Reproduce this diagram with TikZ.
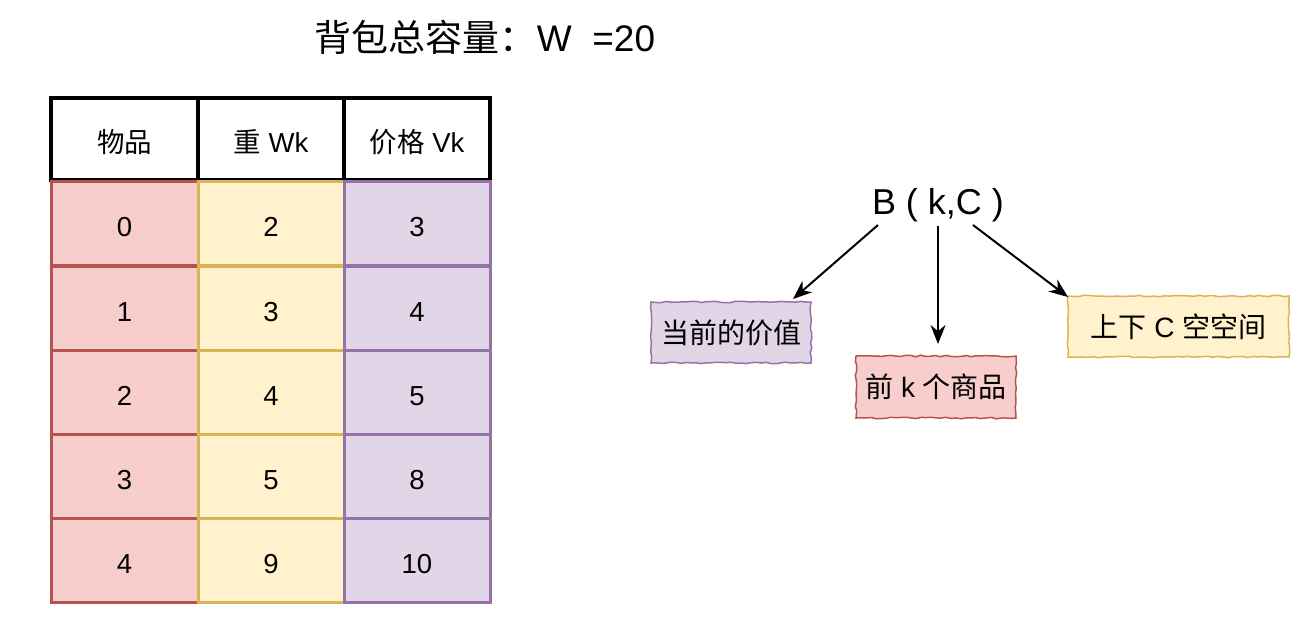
\documentclass[tikz,border=0pt]{standalone}
\usepackage{fontspec}
\setmainfont{Liberation Sans}
\newfontfamily\cjk{Noto Sans CJK SC}
\usetikzlibrary{arrows.meta,decorations.pathmorphing}
\definecolor{redF}{HTML}{F8CECC}\definecolor{redS}{HTML}{B85450}
\definecolor{yelF}{HTML}{FFF2CC}\definecolor{yelS}{HTML}{D6B656}
\definecolor{purF}{HTML}{E1D5E7}\definecolor{purS}{HTML}{9673A6}
\tikzset{
  cell/.style={draw, line width=3pt, inner sep=0pt, font=\fontsize{27.5}{32}\selectfont, minimum height=84pt, text height=26pt, text depth=0pt},
  head/.style={cell, draw=black, fill=white, line width=4pt, minimum height=82pt},
  rcell/.style={cell, fill=redF, draw=redS, minimum width=147pt},
  ycell/.style={cell, fill=yelF, draw=yelS, minimum width=146pt},
  pcell/.style={cell, fill=purF, draw=purS, minimum width=146pt},
  sketch/.style={line width=1.5pt, inner sep=0pt, font=\fontsize{28}{32}\selectfont,
    decoration={random steps, segment length=5pt, amplitude=0.8pt}, decorate},
  arr/.style={line width=2pt, -{Stealth[length=19pt,width=15pt]}},
}
\begin{document}
\begin{tikzpicture}[x=1pt,y=-1pt]
\useasboundingbox (0,0) rectangle (1310,630);
\pgfmathsetseed{7}
\node[font=\fontsize{37}{42}\selectfont] (title) at (485,37) {{\cjk 背包总容量：}W\ \ =20};
% header
\node[head, minimum width=147pt] (h1) at (124.5,139) {{\cjk 物品}};
\node[head, minimum width=146pt] (h2) at (271,139) {{\cjk 重} Wk};
\node[head, minimum width=146pt] (h3) at (417,139) {{\cjk 价格} Vk};
% rows
\node[rcell] (a0) at (124.5,223) {0};
\node[rcell] (a1) at (124.5,308) {1};
\node[rcell] (a2) at (124.5,392) {2};
\node[rcell] (a3) at (124.5,476) {3};
\node[rcell] (a4) at (124.5,560) {4};
\node[ycell] (b0) at (271,223) {2};
\node[ycell] (b1) at (271,308) {3};
\node[ycell] (b2) at (271,392) {4};
\node[ycell] (b3) at (271,476) {5};
\node[ycell] (b4) at (271,560) {9};
\node[pcell] (c0) at (417,223) {3};
\node[pcell] (c1) at (417,308) {4};
\node[pcell] (c2) at (417,392) {5};
\node[pcell] (c3) at (417,476) {8};
\node[pcell] (c4) at (417,560) {10};
% right part
\node[font=\fontsize{36}{40}\selectfont, inner sep=2pt] (B) at (938,205) {B ( k,C )};
\node[sketch, draw=purS, fill=purF, minimum width=160pt, minimum height=61pt] (v) at (731,332.5) {{\cjk 当前的价值}};
\node[sketch, draw=redS, fill=redF, minimum width=160pt, minimum height=62pt] (k) at (936,387) {{\cjk 前} k {\cjk 个商品}};
\node[sketch, draw=yelS, fill=yelF, minimum width=221pt, minimum height=61pt] (c) at (1178.5,326.5) {{\cjk 上下} C {\cjk 空空间}};
\coordinate (s1) at (878,225);
\coordinate (s2) at (938,226);
\coordinate (s3) at (973,225);
\draw[arr] (s1) -- (793,299);
\draw[arr] (s2) -- (938,344);
\draw[arr] (s3) -- (1068,297);
\end{tikzpicture}
\end{document}
